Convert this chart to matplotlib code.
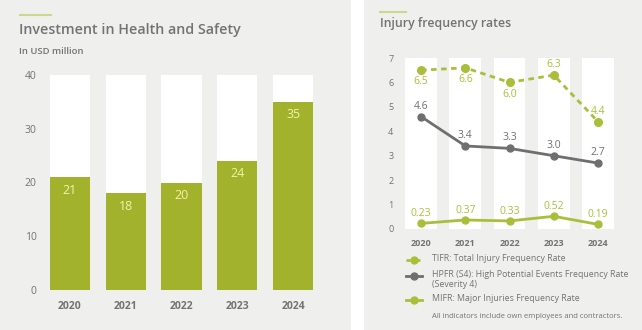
import matplotlib
matplotlib.use('Agg')
import matplotlib.pyplot as plt
from matplotlib.patches import Rectangle
from matplotlib.lines import Line2D

plt.rcParams['font.family'] = ['Open Sans', 'DejaVu Sans']

years = ['2020', '2021', '2022', '2023', '2024']
invest = [21, 18, 20, 24, 35]
tifr = [6.5, 6.6, 6.0, 6.3, 4.4]
hpfr = [4.6, 3.4, 3.3, 3.0, 2.7]
mifr = [0.23, 0.37, 0.33, 0.52, 0.19]
tifr_lbl = ['6.5', '6.6', '6.0', '6.3', '4.4']
hpfr_lbl = ['4.6', '3.4', '3.3', '3.0', '2.7']
mifr_lbl = ['0.23', '0.37', '0.33', '0.52', '0.19']

C = {'bg': '#efefee', 'g': '#a3b22d', 'lg': '#a9bf3a', 'dg': '#6f6f6f',
     'txt': '#737373', 'acc': '#cfd68f', 'lbl': '#f2f3a6'}

W, H = 642, 330
fig = plt.figure(figsize=(W/100, H/100), dpi=100)
fig.patch.set_facecolor('white')

def box(x0, y0, x1, y1):
    # pixel coords (top-left origin) -> figure fraction
    return [x0/W, 1-y1/H, (x1-x0)/W, (y1-y0)/H]

# panel backgrounds
for x0, x1 in [(0, 351), (364, 642)]:
    fig.patches.append(Rectangle((x0/W, 0), (x1-x0)/W, 1, transform=fig.transFigure,
                                 facecolor=C['bg'], edgecolor='none', zorder=-5))

# left panel header
fig.add_artist(Line2D([20/W, 51/W], [1-15/H]*2, color=C['acc'], lw=1.5))
fig.text(19/W, 1-30/H, 'Investment in Health and Safety', fontsize=10.3, fontweight='semibold',
         color=C['txt'], va='center')
fig.text(19/W, 1-52/H, 'In USD million', fontsize=6.8, fontweight='semibold', color=C['txt'], va='center')

ax = fig.add_axes(box(42, 75, 321, 290))
ax.set_facecolor('none')
x = range(len(years))
ax.bar(x, [40]*5, width=0.72, color='white', zorder=1)
ax.bar(x, invest, width=0.72, color=C['g'], zorder=2)
for i, v in zip(x, invest):
    ax.text(i, v-1.2, str(v), ha='center', va='top', fontsize=9, color=C['lbl'], zorder=3)
ax.set_xlim(-0.5, 4.5)
ax.set_ylim(0, 40)
ax.set_yticks([0, 10, 20, 30, 40])
ax.set_xticks(list(x))
ax.set_xticklabels(years, fontweight='bold')
ax.tick_params(length=0, colors=C['txt'], labelsize=7.5)
ax.tick_params(axis='y', pad=4)
ax.tick_params(axis='x', pad=8)
for s in ax.spines.values():
    s.set_visible(False)

# right panel header
fig.add_artist(Line2D([380/W, 406/W], [1-12/H]*2, color=C['acc'], lw=1.5))
fig.text(380/W, 1-24/H, 'Injury frequency rates', fontsize=8.8, fontweight='semibold',
         color=C['txt'], va='center')

ax2 = fig.add_axes(box(399, 58, 620, 229))
ax2.set_facecolor('none')
ax2.bar(x, [7]*5, width=0.72, color='white', zorder=1)
ax2.plot(x, tifr, color=C['lg'], ls=(0, (2, 1.6)), lw=2, marker='o', ms=5.5, zorder=3)
ax2.plot(x, hpfr, color=C['dg'], lw=2, marker='o', ms=5, zorder=3)
ax2.plot(x, mifr, color=C['lg'], lw=2, marker='o', ms=5, zorder=3)
tifr_off = [-0.25, -0.25, -0.25, 0.2, 0.2]
for i, v, l, o in zip(x, tifr, tifr_lbl, tifr_off):
    ax2.text(i, v+o, l, ha='center', va='top' if o < 0 else 'bottom', fontsize=7.5, color=C['lg'])
for i, v, l in zip(x, hpfr, hpfr_lbl):
    ax2.text(i, v+0.2, l, ha='center', va='bottom', fontsize=7.5, color=C['dg'])
for i, v, l in zip(x, mifr, mifr_lbl):
    ax2.text(i, v+0.17, l, ha='center', va='bottom', fontsize=7.5, color=C['lg'])
ax2.set_xlim(-0.5, 4.5)
ax2.set_ylim(0, 7)
ax2.set_yticks(range(8))
ax2.set_xticks(list(x))
ax2.set_xticklabels(years, fontweight='bold')
ax2.tick_params(length=0, colors=C['txt'], labelsize=6.5)
ax2.tick_params(axis='y', pad=4)
ax2.tick_params(axis='x', pad=7)
for s in ax2.spines.values():
    s.set_visible(False)

# legend drawn by hand
leg = [(260, C['lg'], (0, (1.5, 2)), 'TIFR: Total Injury Frequency Rate'),
       (276, C['dg'], '-', 'HPFR (S4): High Potential Events Frequency Rate\n(Severity 4)'),
       (300, C['lg'], '-', 'MIFR: Major Injuries Frequency Rate')]
for y, c, ls, t in leg:
    fig.add_artist(Line2D([406/W, 422/W], [1-y/H]*2, color=c, ls=ls, lw=2))
    fig.add_artist(Line2D([414/W], [1-y/H], color=c, marker='o', ms=5, ls='none'))
    fig.text(432/W, 1-(y-6)/H, t, fontsize=6.3, color=C['txt'], va='top', linespacing=1.2)
fig.text(432/W, 1-318/H, 'All indicators include own employees and contractors.', fontsize=5.5,
         color=C['txt'], va='baseline')

fig.savefig('out.png', dpi=100)
